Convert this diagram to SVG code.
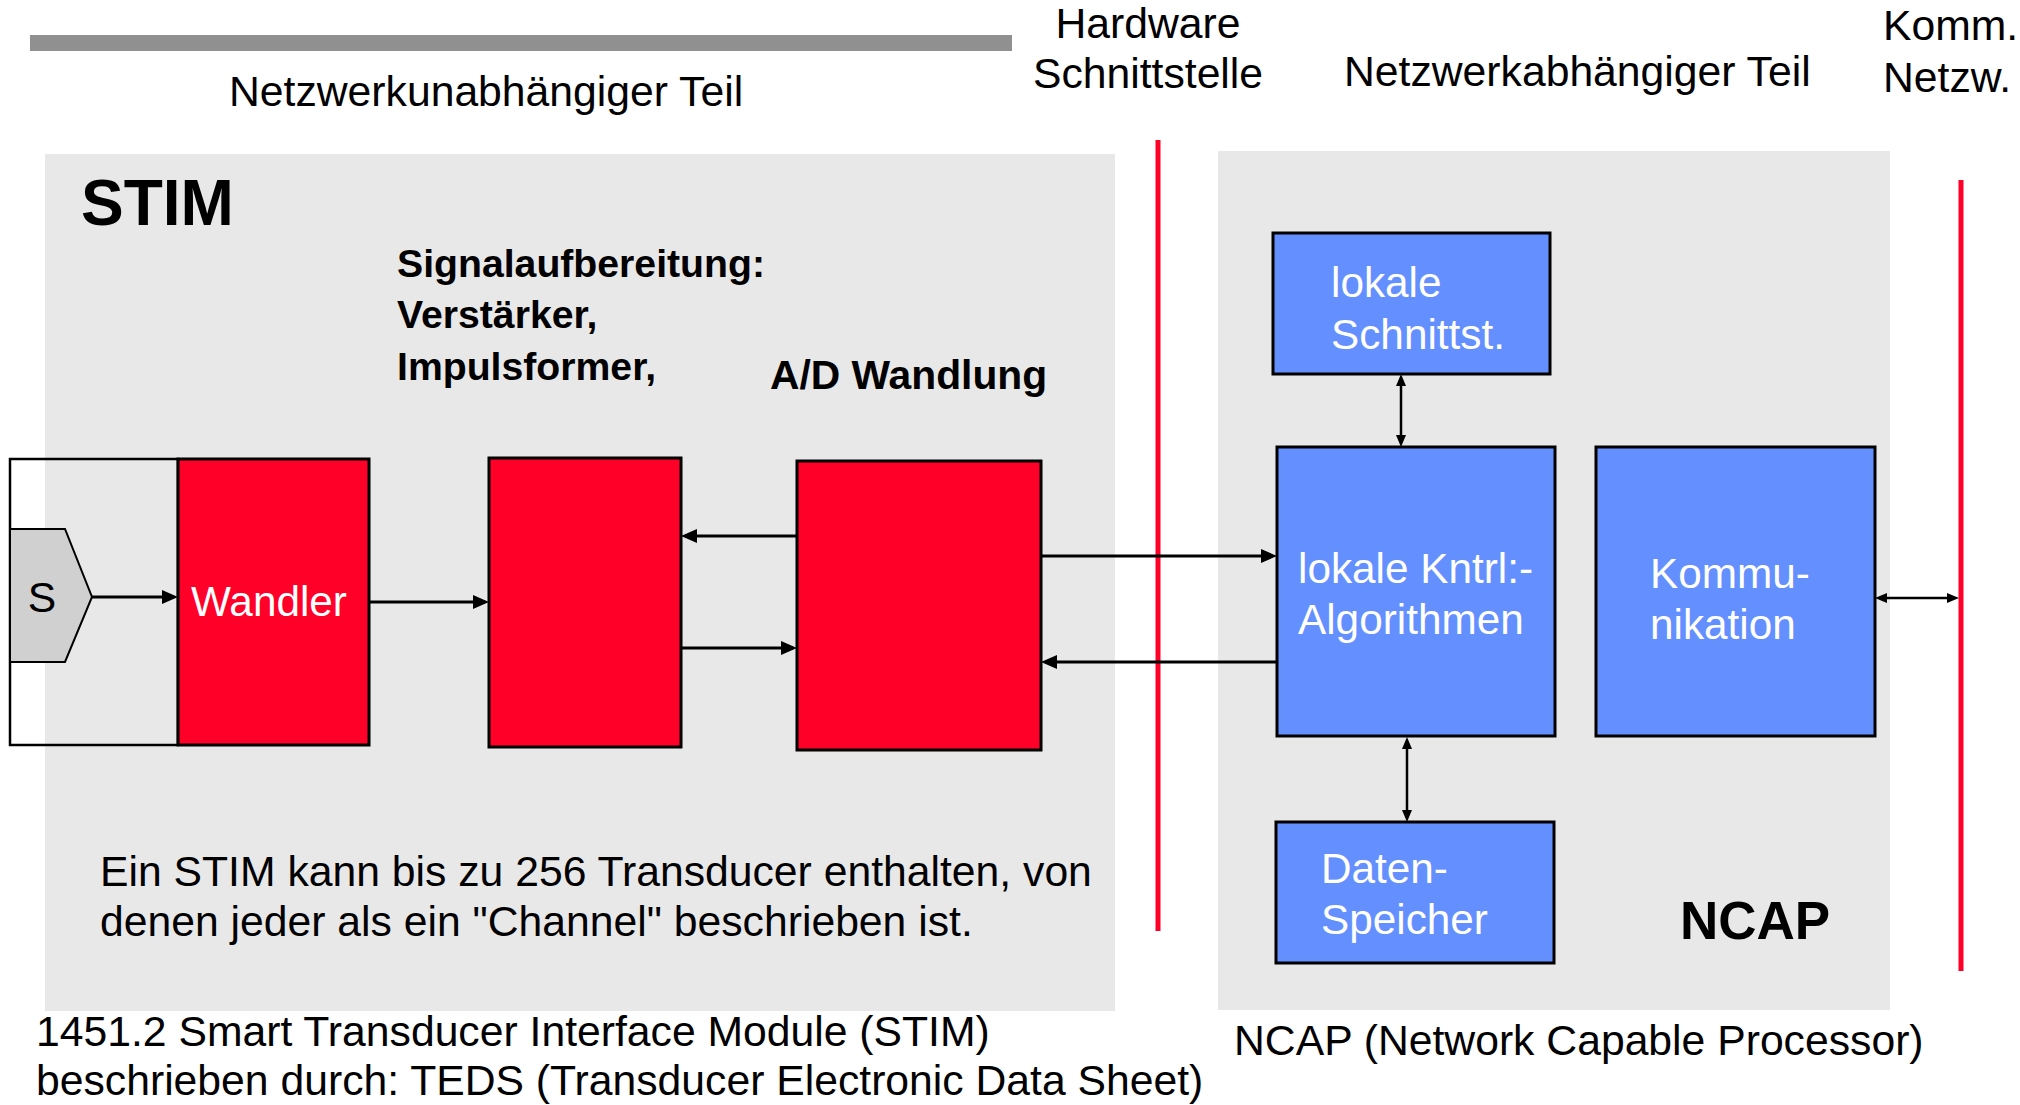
<svg xmlns="http://www.w3.org/2000/svg" width="2020" height="1105" viewBox="0 0 2020 1105">
<defs>
<style>
.t{font-family:"Liberation Sans",Arial,sans-serif;font-size:42.7px;fill:#000}
.w{font-family:"Liberation Sans",Arial,sans-serif;font-size:42.3px;fill:#fff}
.b{font-family:"Liberation Sans",Arial,sans-serif;font-weight:bold;fill:#000}
.bg{fill:#e8e8e8}
.red{fill:#ff0028;stroke:#000;stroke-width:3}
.blue{fill:#648fff;stroke:#000;stroke-width:3}
.rl{stroke:#ff0028;stroke-width:5;fill:none}
.c{stroke:#000;stroke-width:3;fill:none}
.cs{stroke:#000;stroke-width:2.5;fill:none}
</style>
<marker id="a" markerUnits="userSpaceOnUse" markerWidth="16" markerHeight="14" refX="8" refY="7" orient="auto-start-reverse"><path d="M0,0 L16,7 L0,14 z" fill="#000"/></marker>
<marker id="s" markerUnits="userSpaceOnUse" markerWidth="12" markerHeight="10" refX="4" refY="5" orient="auto-start-reverse"><path d="M0,0 L12,5 L0,10 z" fill="#000"/></marker>
</defs>
<rect width="2020" height="1105" fill="#fff"/>

<g id="backgrounds">
<rect class="bg" x="45" y="154" width="1070" height="857"/>
<rect class="bg" x="1218" y="151" width="672" height="859"/>
<rect x="30" y="35" width="982" height="16" fill="#909090"/>
<line class="rl" x1="1158" y1="140" x2="1158" y2="931"/>
<line class="rl" x1="1961" y1="180" x2="1961" y2="971"/>
</g>

<g id="labels">
<text class="t" x="229" y="106" font-size="43.5">Netzwerkunabhängiger Teil</text>
<text class="t" x="1148" y="38" text-anchor="middle">Hardware</text>
<text class="t" x="1148" y="88" text-anchor="middle">Schnittstelle</text>
<text class="t" x="1344" y="86" font-size="43.5">Netzwerkabhängiger Teil</text>
<text class="t" x="1883" y="40">Komm.</text>
<text class="t" x="1883" y="92">Netzw.</text>
<text class="b" x="81" y="225" font-size="64">STIM</text>
<text class="b" x="397" y="277" font-size="39.2">Signalaufbereitung:</text>
<text class="b" x="397" y="328" font-size="39.2">Verstärker,</text>
<text class="b" x="397" y="380" font-size="39.2">Impulsformer,</text>
<text class="b" x="770" y="389" font-size="40.8">A/D Wandlung</text>
<text class="t" x="100" y="886">Ein STIM kann bis zu 256 Transducer enthalten, von</text>
<text class="t" x="100" y="936">denen jeder als ein "Channel" beschrieben ist.</text>
<text class="t" x="36" y="1046">1451.2 Smart Transducer Interface Module (STIM)</text>
<text class="t" x="36" y="1095">beschrieben durch: TEDS (Transducer Electronic Data Sheet)</text>
<text class="t" x="1234" y="1055">NCAP (Network Capable Processor)</text>
<text class="b" x="1680" y="939" font-size="53">NCAP</text>
</g>

<g id="frame">
<rect x="10" y="459" width="168" height="286" fill="none" stroke="#000" stroke-width="2.5"/>
</g>

<g id="sensor">
<polygon points="10,529 65,529 92,597 65,662 10,662" fill="#d0d0d0" stroke="#000" stroke-width="2"/>
<text class="t" x="42" y="612" text-anchor="middle" font-size="45">S</text>
</g>

<g id="wandler">
<rect class="red" x="178" y="459" width="191" height="286"/>
<text class="w" x="191" y="616" font-size="44.5">Wandler</text>
</g>

<g id="signalaufbereitung">
<rect class="red" x="489" y="458" width="192" height="289"/>
</g>

<g id="ad-wandlung">
<rect class="red" x="797" y="461" width="244" height="289"/>
</g>

<g id="lokale-schnittstelle">
<rect class="blue" x="1273" y="233" width="277" height="141"/>
<text class="w" x="1331" y="297">lokale</text>
<text class="w" x="1331" y="349">Schnittst.</text>
</g>

<g id="lokale-kontrolle">
<rect class="blue" x="1277" y="447" width="278" height="289"/>
<text class="w" x="1298" y="583">lokale Kntrl:-</text>
<text class="w" x="1298" y="634">Algorithmen</text>
</g>

<g id="kommunikation">
<rect class="blue" x="1596" y="447" width="279" height="289"/>
<text class="w" x="1650" y="588">Kommu-</text>
<text class="w" x="1650" y="639">nikation</text>
</g>

<g id="datenspeicher">
<rect class="blue" x="1276" y="822" width="278" height="141"/>
<text class="w" x="1321" y="883">Daten-</text>
<text class="w" x="1321" y="934">Speicher</text>
</g>

<g id="connectors">
<path class="c" d="M92,597 H170" marker-end="url(#a)"/>
<path class="c" d="M369,602 H481" marker-end="url(#a)"/>
<path class="c" d="M797,536 H689" marker-end="url(#a)"/>
<path class="c" d="M681,648 H789" marker-end="url(#a)"/>
<path class="c" d="M1041,556 H1269" marker-end="url(#a)"/>
<path class="c" d="M1277,662 H1049" marker-end="url(#a)"/>
<path class="cs" d="M1401,382 V439" marker-start="url(#s)" marker-end="url(#s)"/>
<path class="cs" d="M1407,745 V814" marker-start="url(#s)" marker-end="url(#s)"/>
<path class="cs" d="M1883,598 H1951" marker-start="url(#s)" marker-end="url(#s)"/>
</g>
</svg>
